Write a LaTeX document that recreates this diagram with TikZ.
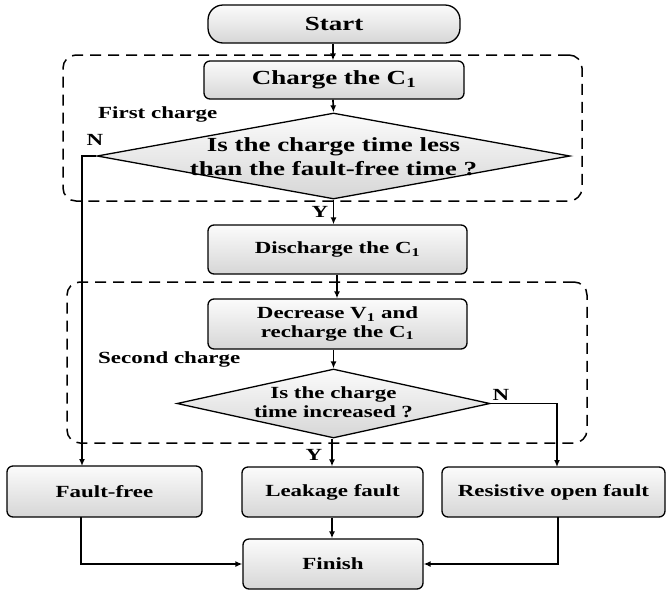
\documentclass[tikz,border=0pt]{standalone}
\usepackage{fontspec}
\setmainfont{Liberation Serif}[FakeStretch=1.35]
\usetikzlibrary{arrows.meta,shapes.geometric}
\begin{document}
\begin{tikzpicture}[x=1pt,y=-1pt,
  big/.style={font=\fontsize{20}{24}\selectfont\bfseries},
  mid/.style={font=\fontsize{17}{20}\selectfont\bfseries},
  box/.style={draw, line width=1.3pt, rounded corners=6pt, top color=gray!3, bottom color=gray!32, inner sep=0pt, align=center},
  dia/.style={draw, diamond, line width=1.3pt, top color=gray!3, bottom color=gray!32, inner sep=0pt, aspect=5},
  grp/.style={draw, dashed, dash pattern=on 11pt off 7pt, line width=1.5pt, rounded corners=13pt, inner sep=0pt},
  arr/.style={line width=1.7pt, -{Latex[length=7pt,width=6pt]}},
  lbl/.style={mid, inner sep=0pt}
]
\useasboundingbox (0,0) rectangle (666,595);
% group frames
\node[grp, minimum width=519pt, minimum height=146pt] (g1) at (322.5,128) {};
\node[grp, minimum width=520pt, minimum height=161pt] (g2) at (327,362.5) {};
% nodes
\node[box, big, rounded corners=15pt, minimum width=252pt, minimum height=38pt] (start) at (334,24) {Start};
\node[box, big, minimum width=260pt, minimum height=38pt] (charge) at (334,80) {Charge the C\textsubscript{1}};
\node[dia, minimum width=473pt, minimum height=86pt] (d1) at (333.5,156) {};
\node[big, align=center, inner sep=0pt] (d1t) at (333.5,157) {Is the charge time less\\than the fault-free time ?};
\node[box, mid, minimum width=259pt, minimum height=49pt] (dis) at (337.5,249.5) {Discharge the C\textsubscript{1}};
\node[box, font=\fontsize{17}{18.5}\selectfont\bfseries, minimum width=259pt, minimum height=50pt] (dec) at (337.5,324) {Decrease V\textsubscript{1} and\\recharge the C\textsubscript{1}};
\node[dia, minimum width=313pt, minimum height=69pt] (d2) at (333.5,403.5) {};
\node[font=\fontsize{17}{19.5}\selectfont\bfseries, align=center, inner sep=0pt] (d2t) at (333.5,402) {Is the charge\\time increased ?};
\node[box, mid, minimum width=195pt, minimum height=51pt] (ff) at (104.5,491.5) {Fault-free};
\node[box, mid, minimum width=181pt, minimum height=50pt] (leak) at (332.5,492) {Leakage fault};
\node[box, mid, minimum width=223pt, minimum height=50pt] (res) at (553.5,492) {Resistive open fault};
\node[box, mid, minimum width=180pt, minimum height=50pt] (fin) at (333,564) {Finish};
% labels
\node[lbl, anchor=base west] (first) at (98,118) {First charge};
\node[lbl, anchor=base west] (second) at (98,363) {Second charge};
\node[lbl] (n1) at (95,140) {N};
\node[lbl] (y1) at (320,212) {Y};
\node[lbl] (n2) at (501,395) {N};
\node[lbl] (y2) at (314,455) {Y};
% connector end points
\coordinate (ffin) at (82,466);
\coordinate (ffout) at (81,517);
\coordinate (rin) at (557,467);
\coordinate (rout) at (558,517);
% connectors
\draw[arr] (start.south -| 333,0) -- (333,0 |- charge.north);
\draw[arr] (charge.south -| 333,0) -- (d1.north);
\draw[arr] (d1.south) -- (d1.south |- dis.north);
\draw[arr] (dis.south -| 337,0) -- (337,0 |- dec.north);
\draw[arr] (dec.south -| d2.north) -- (d2.north);
\draw[arr] (d1.west) -| (ffin);
\draw[arr] (d2.east) -| (rin);
\draw[arr] (d2.south -| 332,0) -- (332,0 |- leak.north);
\draw[arr] (leak.south -| 332,0) -- (332,0 |- fin.north);
\draw[arr] (ffout) |- (fin.west);
\draw[arr] (rout) |- (fin.east);
\end{tikzpicture}
\end{document}
